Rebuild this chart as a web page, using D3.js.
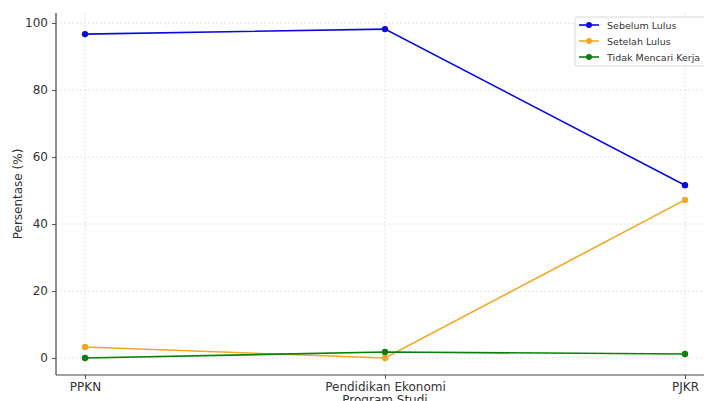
<!DOCTYPE html>
<html><head><meta charset="utf-8">
<script src="https://cdn.jsdelivr.net/npm/d3@7"></script>
<style>body{margin:0;background:#fff;}svg{display:block;font-family:"DejaVu Sans",sans-serif;}</style>
</head><body><svg id="c" width="704" height="401"></svg>
<script>
const categories = ["PPKN", "Pendidikan Ekonomi", "PJKR"];
const seriesNames = ["Sebelum Lulus", "Setelah Lulus", "Tidak Mencari Kerja"];
const sebelum = [96.7, 98.2, 51.6];
const setelah = [3.3, 0.0, 47.2];
const tidak = [0.0, 1.8, 1.2];
const yTicks = [0, 20, 40, 60, 80, 100];
const colors = ["#0a0adf", "#f5a623", "#0a7f0a"];
const seriesValues = [sebelum, setelah, tidak];

(function () {
const svg = d3.select("#c");
const pl = 56, pr = 715, pt = 13, pb = 375;
const x = d3.scalePoint().domain(categories).range([pl + 29, pr - 30]);
const y = d3.scaleLinear().domain([-5.07, 103]).range([pb, pt]);

// grid
const g = svg.append("g");
g.selectAll(".hg").data(yTicks).join("line")
  .attr("x1", pl).attr("x2", pr).attr("y1", d => y(d)).attr("y2", d => y(d))
  .attr("stroke", "#dcdcdc").attr("stroke-width", 0.8).attr("stroke-dasharray", "2,2");
g.selectAll(".vg").data(categories).join("line")
  .attr("x1", d => x(d)).attr("x2", d => x(d)).attr("y1", pt).attr("y2", pb)
  .attr("stroke", "#dcdcdc").attr("stroke-width", 0.8).attr("stroke-dasharray", "2,2");

// axes
const ya = svg.append("g").attr("transform", `translate(${pl},0)`)
  .call(d3.axisLeft(y).tickValues(yTicks).tickSize(4).tickPadding(4));
ya.select(".domain").remove();
ya.selectAll("text").attr("font-size", 12).attr("fill", "#333").attr("font-family", "DejaVu Sans");
ya.selectAll("line").attr("stroke", "#555");
const xa = svg.append("g").attr("transform", `translate(0,${pb})`)
  .call(d3.axisBottom(x).tickSize(4).tickPadding(3));
xa.select(".domain").remove();
xa.selectAll("text").attr("font-size", 12).attr("fill", "#333").attr("font-family", "DejaVu Sans");
xa.selectAll("line").attr("stroke", "#555");

svg.append("line").attr("x1", pl).attr("x2", pl).attr("y1", pt).attr("y2", pb).attr("stroke", "#444").attr("stroke-width", 1.2);
svg.append("line").attr("x1", pl).attr("x2", pr).attr("y1", pb).attr("y2", pb).attr("stroke", "#444").attr("stroke-width", 1.2);

// lines
const line = d3.line().x((d, i) => x(categories[i])).y(d => y(d));
seriesValues.forEach((vals, si) => {
  svg.append("path").datum(vals).attr("d", line).attr("fill", "none")
    .attr("stroke", colors[si]).attr("stroke-width", 1.6);
  svg.selectAll(".p" + si).data(vals).join("circle")
    .attr("cx", (d, i) => x(categories[i])).attr("cy", d => y(d)).attr("r", 3.2)
    .attr("fill", colors[si]);
});

// labels
svg.append("text").attr("transform", `translate(22,${(pt + pb) / 2}) rotate(-90)`)
  .attr("text-anchor", "middle").attr("font-size", 12).attr("fill", "#333").text("Persentase (%)");
svg.append("text").attr("x", x("Pendidikan Ekonomi")).attr("y", 404)
  .attr("text-anchor", "middle").attr("font-size", 12).attr("fill", "#333").text("Program Studi");

// legend
const lg = svg.append("g").attr("transform", "translate(575,17)");
lg.append("rect").attr("x", 0).attr("y", 0).attr("width", 140).attr("height", 49).attr("rx", 2)
  .attr("fill", "#fff").attr("fill-opacity", 0.85).attr("stroke", "#d8d8d8");
seriesNames.forEach((n, i) => {
  const yy = 8 + i * 16;
  lg.append("line").attr("x1", 4).attr("x2", 24).attr("y1", yy).attr("y2", yy).attr("stroke", colors[i]).attr("stroke-width", 1.6);
  lg.append("circle").attr("cx", 14).attr("cy", yy).attr("r", 3).attr("fill", colors[i]);
  lg.append("text").attr("x", 32).attr("y", yy + 3.5).attr("font-size", 9.5).attr("fill", "#333").text(n);
});
})();
</script></body></html>
